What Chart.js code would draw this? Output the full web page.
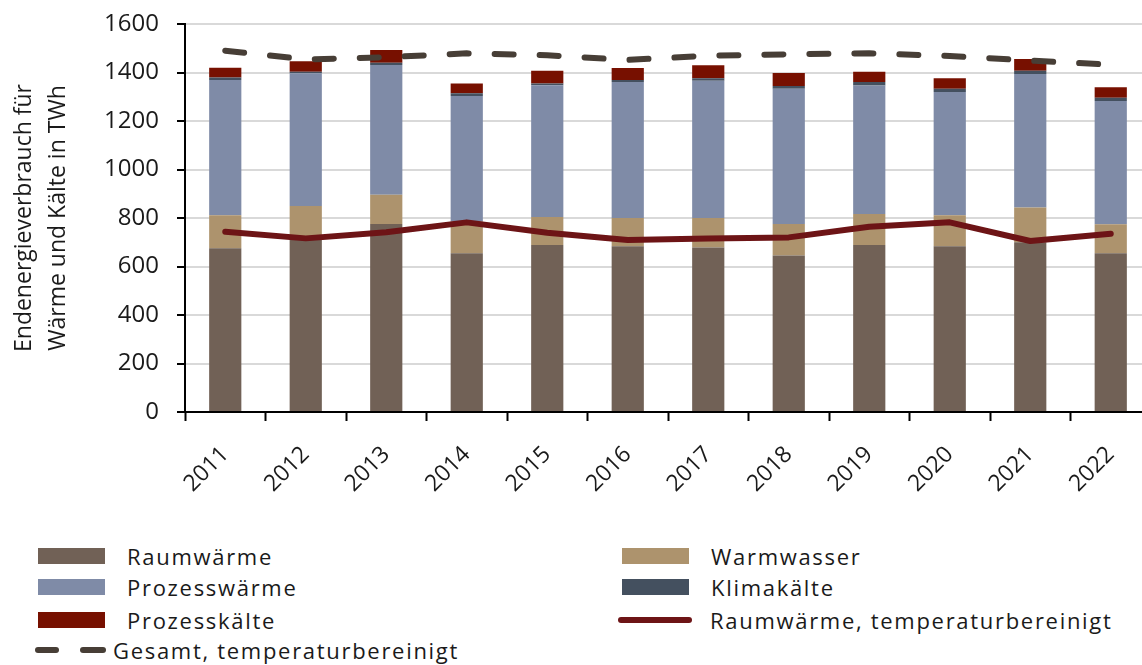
<!DOCTYPE html>
<html>
<head>
<meta charset="utf-8">
<script src="https://cdn.jsdelivr.net/npm/chart.js@4"></script>
<style>
  html, body { margin: 0; padding: 0; background: #fff; overflow: hidden; }
  body { width: 1142px; height: 665px; position: relative; font-family: 'Open Sans', sans-serif; }
  #wrap { position: absolute; left: 0; top: 0; width: 1160px; height: 520px; }
  .lg { position: absolute; height: 30px; display: flex; align-items: center; font-size: 22px; color: #1a1a1a; white-space: nowrap; letter-spacing: 1.7px; }
  .sw { display: inline-block; }
</style>
</head>
<body>
<div id="wrap"><canvas id="chart"></canvas></div>
<div id="legend"></div>
<script>
// Endenergieverbrauch für Wärme und Kälte (TWh)
const years = ['2011', '2012', '2013', '2014', '2015', '2016', '2017', '2018', '2019', '2020', '2021', '2022'];
const raumwaerme   = [675, 720, 775, 655, 689, 683, 678, 645, 689, 683, 700, 655];
const warmwasser   = [136, 129, 121, 131, 115, 117, 122, 130, 127, 128, 143, 119];
const prozesswaerme = [558, 548, 535, 517, 543, 561, 566, 558, 530, 509, 551, 508];
const klimakaelte  = [10, 6, 9, 11, 8, 8, 10, 11, 15, 13, 13, 14];
const prozesskaelte = [41, 43, 53, 41, 52, 50, 54, 54, 42, 43, 49, 43];
const raumwaermeBereinigt = [743, 716, 741, 782, 739, 709, 715, 720, 764, 782, 705, 735];
const gesamtBereinigt = [1490, 1454, 1463, 1479, 1471, 1452, 1469, 1475, 1479, 1468, 1449, 1432];
const yTicks = [0, 200, 400, 600, 800, 1000, 1200, 1400, 1600];

Chart.defaults.font.family = "'Open Sans', sans-serif";
Chart.defaults.color = '#1a1a1a';

const bar = (label, data, color) => ({
    type: 'bar', label, data, backgroundColor: color, stack: 'bars', order: 2,
    categoryPercentage: 0.4, barPercentage: 1.0
});

const datasets = [
    bar('Raumwärme', raumwaerme, '#716156'),
    bar('Warmwasser', warmwasser, '#ad936d'),
    bar('Prozesswärme', prozesswaerme, '#7f8ba7'),
    bar('Klimakälte', klimakaelte, '#44505f'),
    bar('Prozesskälte', prozesskaelte, '#771000'),
    { type: 'line', label: 'Raumwärme, temperaturbereinigt', data: raumwaermeBereinigt, stack: 'l1', order: 1,
      borderColor: '#6d1416', borderWidth: 6, pointRadius: 0, tension: 0, borderCapStyle: 'round', borderJoinStyle: 'round' },
    { type: 'line', label: 'Gesamt, temperaturbereinigt', data: gesamtBereinigt, stack: 'l2', order: 0,
      borderColor: '#473e36', borderWidth: 6, pointRadius: 0, tension: 0, borderDash: [19, 26], borderCapStyle: 'round' }
];

new Chart(document.getElementById('chart'), {
    type: 'bar',
    data: { labels: years, datasets },
    options: {
        responsive: true,
        maintainAspectRatio: false,
        animation: false,
        layout: { padding: { top: 0, right: 9, left: 0, bottom: 0 } },
        plugins: { legend: { display: false }, tooltip: { enabled: false } },
        scales: {
            x: {
                stacked: true,
                grid: { drawOnChartArea: false, drawTicks: true, tickLength: 9, tickColor: '#000', tickWidth: 2, offset: true },
                border: { color: '#000', width: 2 },
                ticks: { font: { size: 23 }, minRotation: 45, maxRotation: 45, padding: 20, color: '#1a1a1a' },
                afterFit: (s) => { s.height = 108; }
            },
            y: {
                stacked: true,
                min: 0, max: 1600,
                afterBuildTicks: (s) => { s.ticks = yTicks.map(v => ({ value: v })); },
                grid: { color: '#d9d9d9', lineWidth: 2, tickColor: '#000', tickWidth: 2, tickLength: 8 },
                border: { color: '#000', width: 2 },
                ticks: { font: { size: 24 }, padding: 18, color: '#1a1a1a', callback: (v) => String(v) },
                title: {
                    display: true,
                    text: ['Endenergieverbrauch für', 'Wärme und Kälte in TWh'],
                    font: { size: 23, lineHeight: 1.45 },
                    padding: { top: 8 },
                    color: '#1a1a1a'
                },
                afterFit: (s) => { s.width = 185; s.paddingTop = 24; }
            }
        }
    }
});

// Legende (zwei Spalten wie im Original)
const legendSlots = [
    { ds: 0, x: 38, y: 541 }, { ds: 1, x: 622, y: 541 },
    { ds: 2, x: 38, y: 572 }, { ds: 3, x: 622, y: 572 },
    { ds: 4, x: 38, y: 605 }, { ds: 5, x: 618, y: 605 },
    { ds: 6, x: 35, y: 635 }
];
const legend = document.getElementById('legend');
legendSlots.forEach(slot => {
    const d = datasets[slot.ds];
    const item = document.createElement('div');
    item.className = 'lg';
    item.style.left = slot.x + 'px';
    item.style.top = slot.y + 'px';
    let swatch;
    if (d.type === 'bar') {
        swatch = `<span class="sw" style="width:67px;height:16px;background:${d.backgroundColor};margin-right:22px"></span>`;
    } else if (!d.borderDash) {
        swatch = `<span class="sw" style="width:74px;height:6px;border-radius:3px;background:${d.borderColor};margin-right:18px"></span>`;
    } else {
        swatch = `<span class="sw" style="width:24px;height:6px;border-radius:3px;background:${d.borderColor};margin-right:21px"></span>` +
                 `<span class="sw" style="width:26px;height:6px;border-radius:3px;background:${d.borderColor};margin-right:7px"></span>`;
    }
    item.innerHTML = swatch + `<span>${d.label}</span>`;
    legend.appendChild(item);
});
</script>
</body>
</html>
